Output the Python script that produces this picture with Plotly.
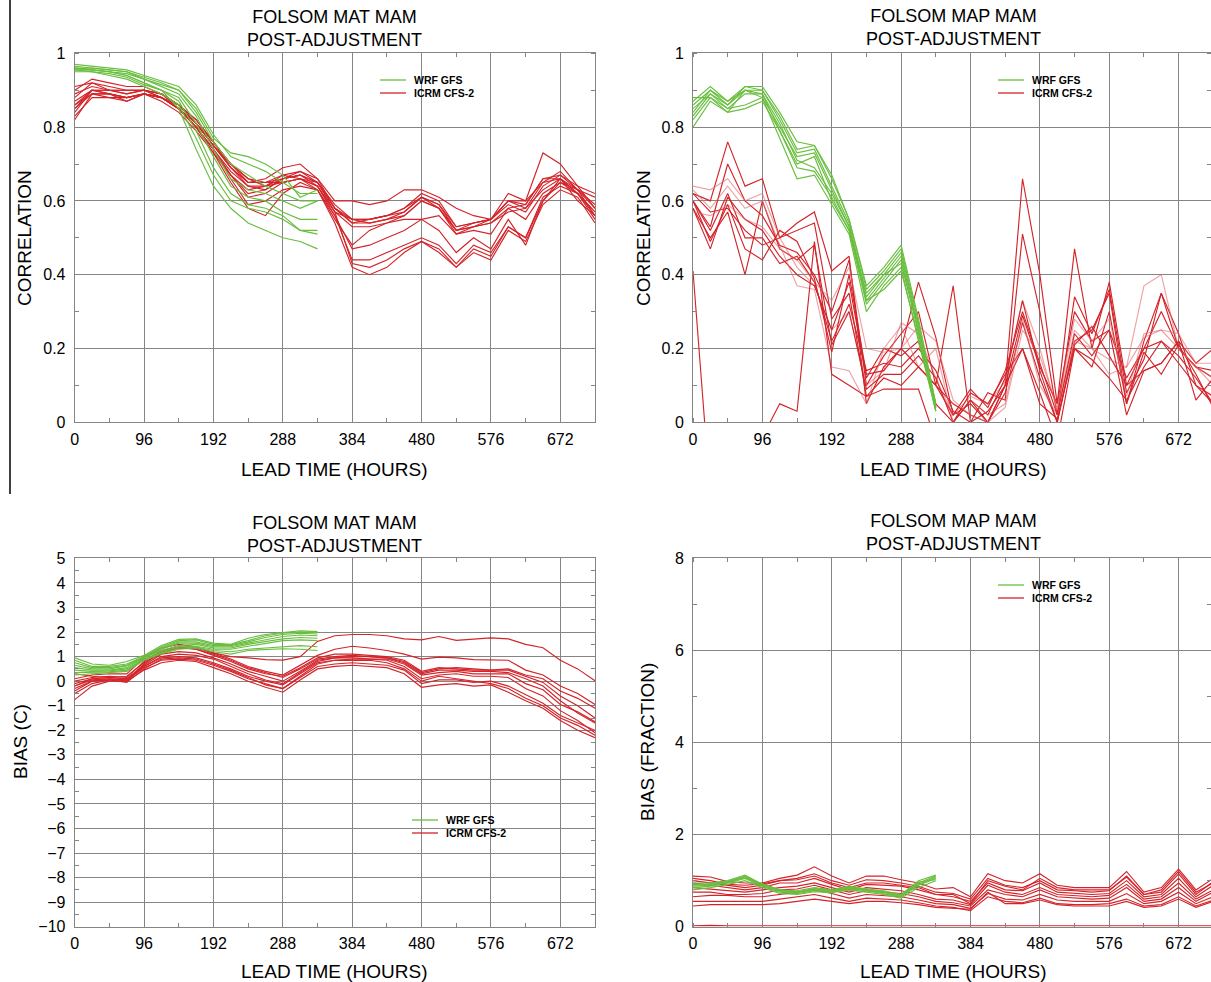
import plotly.graph_objects as go

# ---------------- DATA ----------------
LEAD_HOURS = [0, 24, 48, 72, 96, 120, 144, 168, 192, 216, 240, 264, 288, 312, 336,
              360, 384, 408, 432, 456, 480, 504, 528, 552, 576, 600, 624, 648, 672, 696, 720]
WRF_HOURS = LEAD_HOURS[:15]
X_TICKS = [0, 96, 192, 288, 384, 480, 576, 672]

# Panel 1: MAT correlation
mat_corr_wrf = [
    [0.97, 0.965, 0.96, 0.955, 0.94, 0.925, 0.91, 0.86, 0.78, 0.72, 0.70, 0.68, 0.65, 0.62, 0.62],
    [0.96, 0.96, 0.955, 0.95, 0.935, 0.92, 0.90, 0.85, 0.77, 0.73, 0.72, 0.70, 0.67, 0.61, 0.63],
    [0.955, 0.955, 0.95, 0.945, 0.93, 0.915, 0.90, 0.84, 0.76, 0.70, 0.67, 0.64, 0.62, 0.60, 0.60],
    [0.965, 0.96, 0.955, 0.95, 0.93, 0.91, 0.89, 0.83, 0.74, 0.66, 0.63, 0.62, 0.60, 0.58, 0.60],
    [0.96, 0.955, 0.95, 0.94, 0.92, 0.90, 0.88, 0.81, 0.72, 0.64, 0.61, 0.60, 0.57, 0.55, 0.55],
    [0.955, 0.95, 0.945, 0.935, 0.915, 0.90, 0.87, 0.79, 0.69, 0.62, 0.59, 0.58, 0.56, 0.52, 0.52],
    [0.95, 0.95, 0.94, 0.93, 0.91, 0.89, 0.86, 0.77, 0.67, 0.60, 0.58, 0.57, 0.55, 0.52, 0.51],
    [0.96, 0.955, 0.95, 0.94, 0.92, 0.90, 0.85, 0.74, 0.64, 0.58, 0.54, 0.52, 0.50, 0.49, 0.47],
]
mat_corr_icrm = [
    [0.85, 0.90, 0.90, 0.89, 0.90, 0.89, 0.86, 0.82, 0.76, 0.70, 0.65, 0.65, 0.66, 0.67, 0.65, 0.59, 0.55, 0.54, 0.55, 0.57, 0.61, 0.59, 0.52, 0.53, 0.55, 0.60, 0.58, 0.65, 0.66, 0.62, 0.57],
    [0.88, 0.92, 0.91, 0.90, 0.90, 0.89, 0.86, 0.81, 0.75, 0.69, 0.65, 0.66, 0.69, 0.70, 0.66, 0.58, 0.54, 0.55, 0.56, 0.58, 0.62, 0.60, 0.53, 0.54, 0.55, 0.59, 0.57, 0.64, 0.67, 0.64, 0.58],
    [0.90, 0.93, 0.92, 0.91, 0.91, 0.89, 0.85, 0.80, 0.74, 0.68, 0.64, 0.63, 0.66, 0.68, 0.66, 0.60, 0.60, 0.59, 0.60, 0.63, 0.63, 0.61, 0.58, 0.56, 0.55, 0.60, 0.60, 0.65, 0.68, 0.63, 0.61],
    [0.82, 0.89, 0.89, 0.88, 0.89, 0.88, 0.85, 0.81, 0.75, 0.70, 0.66, 0.65, 0.67, 0.66, 0.64, 0.57, 0.55, 0.55, 0.56, 0.57, 0.61, 0.58, 0.51, 0.53, 0.54, 0.58, 0.59, 0.66, 0.67, 0.63, 0.56],
    [0.84, 0.90, 0.90, 0.89, 0.90, 0.88, 0.86, 0.82, 0.76, 0.69, 0.65, 0.65, 0.65, 0.66, 0.64, 0.57, 0.53, 0.53, 0.54, 0.56, 0.60, 0.58, 0.52, 0.53, 0.54, 0.57, 0.58, 0.63, 0.66, 0.62, 0.55],
    [0.86, 0.90, 0.89, 0.88, 0.89, 0.88, 0.85, 0.80, 0.74, 0.66, 0.59, 0.60, 0.63, 0.64, 0.63, 0.55, 0.48, 0.52, 0.54, 0.55, 0.55, 0.56, 0.51, 0.52, 0.51, 0.58, 0.55, 0.62, 0.65, 0.63, 0.58],
    [0.91, 0.92, 0.90, 0.90, 0.90, 0.89, 0.86, 0.81, 0.75, 0.69, 0.64, 0.64, 0.66, 0.67, 0.65, 0.57, 0.43, 0.42, 0.44, 0.47, 0.49, 0.46, 0.42, 0.47, 0.45, 0.53, 0.50, 0.60, 0.66, 0.60, 0.56],
    [0.87, 0.90, 0.89, 0.87, 0.89, 0.88, 0.85, 0.80, 0.73, 0.65, 0.58, 0.56, 0.62, 0.65, 0.63, 0.54, 0.42, 0.40, 0.42, 0.46, 0.49, 0.47, 0.42, 0.46, 0.44, 0.52, 0.49, 0.59, 0.63, 0.61, 0.54],
    [0.85, 0.89, 0.89, 0.88, 0.89, 0.87, 0.84, 0.79, 0.73, 0.67, 0.61, 0.62, 0.65, 0.66, 0.63, 0.56, 0.44, 0.44, 0.46, 0.48, 0.50, 0.48, 0.43, 0.48, 0.46, 0.53, 0.50, 0.61, 0.64, 0.62, 0.56],
    [0.89, 0.91, 0.90, 0.90, 0.90, 0.88, 0.85, 0.81, 0.76, 0.70, 0.66, 0.64, 0.65, 0.66, 0.65, 0.58, 0.54, 0.54, 0.55, 0.56, 0.60, 0.58, 0.52, 0.54, 0.55, 0.62, 0.60, 0.73, 0.70, 0.64, 0.62],
    [0.83, 0.88, 0.88, 0.87, 0.89, 0.88, 0.85, 0.80, 0.74, 0.67, 0.63, 0.64, 0.67, 0.68, 0.65, 0.58, 0.55, 0.55, 0.56, 0.58, 0.61, 0.59, 0.53, 0.54, 0.55, 0.60, 0.59, 0.66, 0.66, 0.63, 0.59],
    [0.86, 0.89, 0.88, 0.88, 0.89, 0.88, 0.85, 0.80, 0.74, 0.67, 0.62, 0.63, 0.66, 0.67, 0.64, 0.56, 0.47, 0.48, 0.50, 0.52, 0.55, 0.52, 0.46, 0.50, 0.47, 0.55, 0.48, 0.60, 0.65, 0.62, 0.57],
]

# Panel 2: MAP correlation
map_corr_wrf = [
    [0.80, 0.87, 0.84, 0.90, 0.88, 0.77, 0.66, 0.67, 0.59, 0.51, 0.30, 0.37, 0.42, 0.22, 0.03],
    [0.82, 0.88, 0.85, 0.89, 0.89, 0.79, 0.69, 0.68, 0.61, 0.52, 0.32, 0.38, 0.44, 0.24, 0.03],
    [0.83, 0.89, 0.86, 0.90, 0.89, 0.81, 0.71, 0.69, 0.62, 0.53, 0.33, 0.39, 0.45, 0.25, 0.04],
    [0.84, 0.90, 0.86, 0.91, 0.90, 0.82, 0.73, 0.74, 0.64, 0.54, 0.34, 0.40, 0.46, 0.26, 0.04],
    [0.86, 0.90, 0.87, 0.90, 0.90, 0.83, 0.74, 0.75, 0.66, 0.55, 0.36, 0.41, 0.47, 0.27, 0.05],
    [0.87, 0.91, 0.87, 0.91, 0.91, 0.84, 0.76, 0.75, 0.67, 0.55, 0.37, 0.42, 0.48, 0.28, 0.05],
    [0.85, 0.89, 0.85, 0.86, 0.88, 0.80, 0.72, 0.73, 0.63, 0.53, 0.35, 0.40, 0.43, 0.25, 0.04],
    [0.88, 0.88, 0.84, 0.85, 0.87, 0.79, 0.70, 0.72, 0.60, 0.52, 0.33, 0.36, 0.41, 0.23, 0.03],
]
map_corr_icrm = [
    [0.62, 0.60, 0.76, 0.64, 0.66, 0.50, 0.54, 0.57, 0.41, 0.45, 0.05, 0.15, 0.20, 0.38, 0.23, 0.02, 0.05, 0.00, 0.10, 0.66, 0.40, 0.05, 0.47, 0.20, 0.38, 0.10, 0.20, 0.30, 0.20, 0.15, 0.14],
    [0.60, 0.53, 0.70, 0.60, 0.56, 0.48, 0.46, 0.40, 0.30, 0.44, 0.10, 0.18, 0.24, 0.30, 0.10, 0.37, 0.00, 0.08, 0.06, 0.51, 0.30, 0.02, 0.34, 0.24, 0.36, 0.08, 0.17, 0.35, 0.24, 0.10, 0.07],
    [0.64, 0.63, 0.66, 0.60, 0.62, 0.50, 0.42, 0.37, 0.25, 0.30, 0.10, 0.14, 0.27, 0.24, 0.12, 0.02, 0.07, 0.05, 0.11, 0.33, 0.20, 0.03, 0.25, 0.20, 0.13, 0.15, 0.37, 0.40, 0.20, 0.15, 0.10],
    [0.58, 0.47, 0.61, 0.55, 0.52, 0.45, 0.40, 0.37, 0.25, 0.38, 0.12, 0.20, 0.18, 0.22, 0.05, 0.00, 0.06, 0.02, 0.12, 0.33, 0.14, 0.00, 0.22, 0.25, 0.35, 0.05, 0.22, 0.35, 0.20, 0.15, 0.12],
    [0.60, 0.52, 0.62, 0.50, 0.50, 0.43, 0.45, 0.38, 0.22, 0.32, 0.14, 0.16, 0.15, 0.20, 0.14, 0.03, 0.00, 0.03, 0.10, 0.29, 0.15, 0.05, 0.30, 0.22, 0.25, 0.12, 0.20, 0.22, 0.18, 0.12, 0.05],
    [0.62, 0.57, 0.58, 0.52, 0.48, 0.50, 0.52, 0.54, 0.28, 0.35, 0.07, 0.12, 0.10, 0.15, 0.10, 0.05, 0.02, 0.00, 0.08, 0.27, 0.12, 0.00, 0.21, 0.26, 0.18, 0.10, 0.14, 0.16, 0.22, 0.16, 0.20],
    [0.58, 0.50, 0.57, 0.40, 0.60, 0.47, 0.44, 0.48, 0.21, 0.30, 0.09, 0.13, 0.13, 0.18, 0.12, 0.00, 0.08, 0.05, 0.13, 0.20, 0.05, 0.01, 0.20, 0.15, 0.30, 0.05, 0.19, 0.13, 0.21, 0.13, 0.04],
    [0.63, 0.58, 0.64, 0.58, 0.60, 0.48, 0.37, 0.36, 0.15, 0.14, 0.05, 0.20, 0.26, 0.15, 0.20, 0.00, 0.06, 0.02, 0.05, 0.28, 0.10, 0.02, 0.22, 0.20, 0.17, 0.15, 0.23, 0.25, 0.20, 0.15, 0.12],
    [0.41, -0.20, -0.25, -0.20, -0.04, 0.05, 0.03, 0.49, 0.13, 0.10, 0.07, 0.09, 0.09, 0.09, -0.05, 0.00, 0.06, 0.00, 0.10, 0.20, 0.08, -0.05, 0.20, 0.17, 0.12, 0.06, 0.15, 0.22, 0.16, 0.10, 0.05],
    [0.57, 0.56, 0.59, 0.55, 0.53, 0.47, 0.44, 0.38, 0.33, 0.42, 0.20, 0.19, 0.20, 0.26, 0.22, 0.06, 0.02, 0.00, 0.04, 0.25, 0.18, 0.04, 0.28, 0.22, 0.28, 0.07, 0.24, 0.25, 0.24, 0.16, 0.16],
    [0.60, 0.49, 0.59, 0.47, 0.44, 0.52, 0.49, 0.39, 0.19, 0.40, 0.13, 0.14, 0.20, 0.15, 0.10, 0.02, 0.09, 0.04, 0.14, 0.30, 0.16, 0.02, 0.24, 0.18, 0.25, 0.02, 0.14, 0.16, 0.22, 0.06, 0.12],
]
map_corr_icrm_light = [False, False, True, False, False, False, False, True, False, True, False]

# Panel 3: MAT bias (C)
mat_bias_wrf = [
    [0.95, 0.70, 0.65, 0.80, 1.05, 1.45, 1.70, 1.72, 1.55, 1.50, 1.75, 1.90, 1.98, 2.05, 2.02],
    [0.85, 0.60, 0.60, 0.70, 1.00, 1.40, 1.65, 1.68, 1.50, 1.48, 1.65, 1.85, 1.95, 2.00, 1.98],
    [0.75, 0.55, 0.55, 0.65, 1.00, 1.35, 1.60, 1.60, 1.45, 1.45, 1.60, 1.78, 1.90, 1.95, 1.92],
    [0.65, 0.50, 0.50, 0.62, 0.95, 1.30, 1.55, 1.55, 1.40, 1.40, 1.55, 1.70, 1.82, 1.88, 1.85],
    [0.55, 0.45, 0.45, 0.55, 0.95, 1.25, 1.45, 1.50, 1.35, 1.35, 1.50, 1.62, 1.72, 1.78, 1.75],
    [0.45, 0.40, 0.42, 0.50, 0.90, 1.20, 1.40, 1.42, 1.30, 1.30, 1.42, 1.55, 1.65, 1.68, 1.65],
    [0.35, 0.35, 0.38, 0.45, 0.88, 1.15, 1.35, 1.38, 1.25, 1.20, 1.30, 1.35, 1.40, 1.45, 1.40],
    [0.25, 0.30, 0.35, 0.40, 0.85, 1.12, 1.30, 1.35, 1.20, 1.10, 1.25, 1.30, 1.32, 1.30, 1.25],
]
mat_bias_icrm = [
    [-0.2, 0.1, 0.15, 0.2, 0.75, 1.15, 1.35, 1.35, 1.15, 1.0, 0.95, 0.88, 0.86, 1.0, 1.62, 1.85, 1.9, 1.9, 1.85, 1.72, 1.68, 1.82, 1.66, 1.7, 1.76, 1.72, 1.5, 1.36, 0.85, 0.5, 0.02],
    [0.1, 0.25, 0.3, 0.3, 0.95, 1.35, 1.5, 1.4, 1.15, 0.9, 0.6, 0.4, 0.25, 0.65, 1.05, 1.3, 1.42, 1.35, 1.25, 1.1, 0.9, 0.98, 0.95, 0.88, 0.85, 0.85, 0.45, 0.25, -0.2, -0.5, -0.95],
    [-0.4, 0.0, 0.1, 0.05, 0.7, 1.2, 1.35, 1.3, 1.05, 0.8, 0.5, 0.3, 0.2, 0.55, 0.95, 1.1, 1.1, 1.05, 1.0, 0.85, 0.4, 0.55, 0.5, 0.45, 0.45, 0.5, 0.25, 0.1, -0.4, -0.7, -1.1],
    [-0.2, 0.05, 0.1, 0.0, 0.6, 1.0, 1.1, 1.05, 0.9, 0.6, 0.3, 0.05, -0.1, 0.35, 0.8, 0.95, 1.0, 1.0, 0.95, 0.75, 0.3, 0.45, 0.45, 0.4, 0.4, 0.35, 0.1, -0.2, -0.8, -1.3, -1.7],
    [-0.5, -0.1, 0.05, -0.05, 0.5, 0.9, 0.95, 0.9, 0.7, 0.45, 0.15, -0.15, -0.3, 0.2, 0.7, 0.85, 0.9, 0.9, 0.85, 0.6, 0.1, 0.25, 0.3, 0.2, 0.2, 0.15, -0.3, -0.6, -1.2, -1.6, -2.1],
    [-0.75, -0.2, 0.0, 0.0, 0.45, 0.75, 0.85, 0.8, 0.55, 0.3, 0.0, -0.25, -0.45, 0.05, 0.5, 0.6, 0.65, 0.6, 0.55, 0.3, -0.25, -0.15, -0.1, -0.2, -0.15, -0.45, -0.8, -1.1, -1.6, -2.0, -2.3],
    [0.3, 0.2, 0.15, 0.1, 0.6, 0.95, 1.0, 0.95, 0.75, 0.5, 0.2, 0.0, -0.15, 0.3, 0.75, 0.85, 0.85, 0.85, 0.75, 0.5, 0.0, 0.2, 0.1, 0.0, -0.1, -0.3, -0.7, -1.0, -1.5, -1.8, -2.2],
    [-0.3, 0.0, 0.05, 0.05, 0.55, 0.85, 0.9, 0.85, 0.65, 0.4, 0.1, -0.1, -0.3, 0.15, 0.6, 0.7, 0.75, 0.7, 0.65, 0.45, -0.1, 0.05, 0.05, -0.05, 0.0, -0.2, -0.55, -0.9, -1.4, -1.7, -2.0],
    [0.0, 0.15, 0.2, 0.15, 0.8, 1.25, 1.4, 1.3, 1.1, 0.85, 0.55, 0.35, 0.15, 0.5, 0.9, 1.0, 1.05, 1.0, 0.95, 0.8, 0.35, 0.5, 0.55, 0.5, 0.45, 0.45, 0.2, -0.05, -0.6, -1.0, -1.5],
    [-0.1, 0.1, 0.15, 0.1, 0.65, 1.1, 1.2, 1.15, 0.95, 0.7, 0.4, 0.2, 0.0, 0.4, 0.85, 0.95, 0.95, 0.9, 0.9, 0.7, 0.25, 0.35, 0.4, 0.3, 0.3, 0.3, -0.1, -0.35, -0.95, -1.25, -1.65],
]

# Panel 4: MAP bias (fraction)
map_bias_wrf = [
    [0.90, 0.92, 0.98, 1.10, 0.90, 0.78, 0.75, 0.80, 0.78, 0.85, 0.80, 0.75, 0.68, 0.95, 1.10],
    [0.85, 0.88, 0.95, 1.05, 0.88, 0.75, 0.72, 0.78, 0.76, 0.82, 0.78, 0.72, 0.65, 0.90, 1.05],
    [0.95, 0.95, 1.00, 1.12, 0.92, 0.80, 0.78, 0.85, 0.80, 0.88, 0.82, 0.78, 0.70, 1.00, 1.12],
    [0.80, 0.85, 0.92, 1.00, 0.85, 0.72, 0.70, 0.76, 0.74, 0.80, 0.75, 0.70, 0.62, 0.85, 1.00],
    [0.88, 0.90, 0.96, 1.08, 0.90, 0.77, 0.74, 0.82, 0.77, 0.84, 0.79, 0.74, 0.66, 0.92, 1.08],
    [0.92, 0.93, 0.98, 1.06, 0.93, 0.80, 0.76, 0.83, 0.79, 0.86, 0.81, 0.76, 0.68, 0.97, 1.02],
]
map_bias_icrm = [
    [1.10, 1.08, 0.98, 0.95, 0.95, 1.05, 1.12, 1.30, 1.10, 0.95, 1.10, 1.10, 1.02, 0.95, 0.82, 0.85, 0.65, 1.15, 1.00, 0.95, 1.15, 0.90, 0.85, 0.85, 0.85, 1.20, 0.75, 0.85, 1.25, 0.80, 1.05],
    [1.05, 1.00, 0.92, 0.90, 0.93, 1.00, 1.05, 1.15, 1.00, 0.90, 1.02, 1.00, 0.95, 0.88, 0.75, 0.72, 0.60, 1.05, 0.90, 0.85, 1.00, 0.80, 0.78, 0.75, 0.78, 1.10, 0.70, 0.75, 1.15, 0.70, 0.98],
    [0.95, 0.90, 0.85, 0.80, 0.85, 0.95, 0.95, 1.05, 0.92, 0.80, 0.92, 0.90, 0.88, 0.80, 0.70, 0.65, 0.55, 0.95, 0.80, 0.78, 0.95, 0.75, 0.72, 0.70, 0.72, 1.00, 0.65, 0.70, 1.05, 0.65, 0.90],
    [0.85, 0.82, 0.78, 0.75, 0.80, 0.85, 0.88, 0.95, 0.85, 0.75, 0.85, 0.82, 0.78, 0.70, 0.60, 0.58, 0.48, 0.90, 0.75, 0.70, 0.85, 0.70, 0.68, 0.65, 0.68, 0.92, 0.60, 0.65, 0.95, 0.60, 0.80],
    [0.75, 0.75, 0.70, 0.70, 0.72, 0.80, 0.82, 0.90, 0.80, 0.70, 0.78, 0.75, 0.72, 0.65, 0.55, 0.52, 0.45, 0.80, 0.70, 0.65, 0.80, 0.65, 0.62, 0.60, 0.62, 0.85, 0.55, 0.60, 0.85, 0.55, 0.75],
    [0.65, 0.68, 0.68, 0.65, 0.65, 0.70, 0.75, 0.80, 0.72, 0.62, 0.70, 0.68, 0.65, 0.58, 0.50, 0.48, 0.40, 0.72, 0.60, 0.58, 0.70, 0.58, 0.55, 0.55, 0.55, 0.72, 0.50, 0.55, 0.75, 0.50, 0.65],
    [0.55, 0.55, 0.55, 0.55, 0.55, 0.60, 0.65, 0.70, 0.62, 0.55, 0.62, 0.60, 0.58, 0.52, 0.45, 0.42, 0.35, 0.65, 0.55, 0.52, 0.62, 0.50, 0.48, 0.48, 0.50, 0.60, 0.45, 0.48, 0.65, 0.45, 0.58],
    [0.45, 0.48, 0.48, 0.48, 0.48, 0.50, 0.55, 0.60, 0.55, 0.50, 0.55, 0.55, 0.52, 0.48, 0.42, 0.40, 0.38, 0.75, 0.50, 0.50, 0.58, 0.48, 0.45, 0.45, 0.45, 0.55, 0.42, 0.45, 0.60, 0.42, 0.55],
    [0.02, 0.03, 0.02, 0.02, 0.02, 0.02, 0.02, 0.02, 0.02, 0.02, 0.02, 0.02, 0.02, 0.02, 0.02, 0.02, 0.02, 0.02, 0.02, 0.02, 0.02, 0.02, 0.02, 0.02, 0.02, 0.02, 0.02, 0.02, 0.03, 0.02, 0.02],
    [1.00, 0.95, 0.90, 0.85, 0.90, 1.00, 1.02, 1.10, 0.95, 0.85, 0.95, 0.95, 0.90, 0.85, 0.70, 0.70, 0.50, 1.00, 0.88, 0.80, 1.05, 0.85, 0.80, 0.80, 0.80, 1.08, 0.70, 0.80, 1.20, 0.75, 0.95],
]

TITLE_MAT = "FOLSOM MAT MAM<br>POST-ADJUSTMENT"
TITLE_MAP = "FOLSOM MAP MAM<br>POST-ADJUSTMENT"
LEGEND_NAMES = ["WRF GFS", "ICRM CFS-2"]

# ---------------- STYLE / LAYOUT ----------------
W, H = 1211, 982
GREEN = "#69be3f"
RED = "#d3242a"
RED_LIGHT = "rgba(228,100,105,0.6)"
GRID = "#858585"
FONT = "Liberation Sans, Arial, Helvetica, sans-serif"


def px(x):
    return x / W


def py(y):
    return 1 - y / H


LEFT_X0, PANEL_W = 74.7, 520.3
RIGHT_X0 = 693.0
TOP_Y0, TOP_Y1 = 53.3, 422.3
BOT_Y0, BOT_Y1 = 558.4, 926.7

fig = go.Figure()

panels = [
    ("x", "y", mat_corr_wrf, mat_corr_icrm, None),
    ("x2", "y2", map_corr_wrf, map_corr_icrm, map_corr_icrm_light),
    ("x3", "y3", mat_bias_wrf, mat_bias_icrm, None),
    ("x4", "y4", map_bias_wrf, map_bias_icrm, None),
]

for xa, ya, wrf, icrm, light in panels:
    for i, vals in enumerate(icrm):
        col = RED_LIGHT if (light and light[i]) else RED
        fig.add_trace(go.Scatter(x=LEAD_HOURS, y=vals, mode="lines", xaxis=xa, yaxis=ya,
                                 line=dict(color=col, width=1.15), showlegend=False,
                                 hoverinfo="skip"))
    for vals in wrf:
        fig.add_trace(go.Scatter(x=WRF_HOURS, y=vals, mode="lines", xaxis=xa, yaxis=ya,
                                 line=dict(color=GREEN, width=1.15), showlegend=False,
                                 hoverinfo="skip"))

right_range = 720 * (W - RIGHT_X0) / PANEL_W
tickfont = dict(family=FONT, size=16, color="black")

common_x = dict(tickvals=X_TICKS, showgrid=True, gridcolor=GRID, gridwidth=1,
                showline=True, linecolor=GRID, linewidth=1, mirror="ticks",
                ticks="", zeroline=False, ticklabelstandoff=2, automargin=False,
                minor=dict(ticks="inside", dtick=48, tick0=0, ticklen=4, tickcolor=GRID,
                           showgrid=False),
                tickfont=tickfont)
common_y = dict(showgrid=True, gridcolor=GRID, gridwidth=1, showline=True,
                linecolor=GRID, linewidth=1, mirror="ticks", ticks="", zeroline=False,
                ticklabelstandoff=5, automargin=False, tickfont=tickfont)
corr_ticks = dict(tickvals=[0, 0.2, 0.4, 0.6, 0.8, 1],
                  ticktext=["0", "0.2", "0.4", "0.6", "0.8", "1"],
                  minor=dict(ticks="inside", dtick=0.1, ticklen=4, tickcolor=GRID, showgrid=False))

fig.update_layout(
    template="none",
    width=W, height=H, margin=dict(l=0, r=0, t=0, b=0, pad=0, autoexpand=False),
    paper_bgcolor="white", plot_bgcolor="white", showlegend=False,
    xaxis=dict(common_x, domain=[px(LEFT_X0), px(LEFT_X0 + PANEL_W)], range=[0, 720], anchor="y"),
    yaxis=dict(common_y, **corr_ticks, domain=[py(TOP_Y1), py(TOP_Y0)], range=[0, 1], anchor="x"),
    xaxis2=dict(common_x, domain=[px(RIGHT_X0), 1.0], range=[0, right_range], anchor="y2"),
    yaxis2=dict(common_y, **corr_ticks, domain=[py(TOP_Y1), py(TOP_Y0)], range=[0, 1], anchor="x2"),
    xaxis3=dict(common_x, domain=[px(LEFT_X0), px(LEFT_X0 + PANEL_W)], range=[0, 720], anchor="y3"),
    yaxis3=dict(common_y, domain=[py(BOT_Y1), py(BOT_Y0)], range=[-10, 5], dtick=1, tick0=0,
                minor=dict(ticks="inside", dtick=0.5, ticklen=4, tickcolor=GRID, showgrid=False),
                anchor="x3"),
    xaxis4=dict(common_x, domain=[px(RIGHT_X0), 1.0], range=[0, right_range], anchor="y4"),
    yaxis4=dict(common_y, domain=[py(BOT_Y1), py(BOT_Y0)], range=[0, 8], dtick=2, tick0=0,
                minor=dict(ticks="inside", dtick=1, ticklen=4, tickcolor=GRID, showgrid=False),
                anchor="x4"),
)

ann = []
shapes = []
title_font = dict(family=FONT, size=18, color="black")
axis_font = dict(family=FONT, size=19, color="black")
leg_font = dict(family=FONT, size=10.5, color="black")

left_cx = LEFT_X0 + PANEL_W / 2
right_cx = RIGHT_X0 + PANEL_W / 2


def add_text(cx, cy, txt, font, angle=0, anchor="center"):
    ann.append(dict(x=px(cx), y=py(cy), xref="paper", yref="paper", text=txt, showarrow=False,
                    font=font, xanchor=anchor, yanchor="middle", textangle=angle))


# panel titles (two lines each)
for cx, cy, txt in [(left_cx, 28.5, TITLE_MAT), (right_cx, 27.5, TITLE_MAP),
                    (left_cx, 534.5, TITLE_MAT), (right_cx, 532.5, TITLE_MAP)]:
    add_text(cx, cy, txt, title_font)

# x axis titles
for cx, cy in [(left_cx, 469), (right_cx, 469), (left_cx, 971), (right_cx, 971)]:
    add_text(cx, cy, "LEAD TIME (HOURS)", axis_font)

# y axis titles
for cx, cy, txt in [(25, 238, "CORRELATION"), (644, 238, "CORRELATION"),
                    (20, 742, "BIAS (C)"), (647, 742, "BIAS (FRACTION)")]:
    add_text(cx, cy, txt, axis_font, angle=-90)

# legends (line sample + label)
for lx, ly in [(380, 80), (998, 80), (412, 820), (998, 585)]:
    for k, (name, col) in enumerate(zip(LEGEND_NAMES, [GREEN, RED])):
        yy = ly + k * 13
        shapes.append(dict(type="line", xref="paper", yref="paper",
                           x0=px(lx), x1=px(lx + 26), y0=py(yy), y1=py(yy),
                           line=dict(color=col, width=1.3)))
        add_text(lx + 32, yy, "<b>%s</b>" % name, leg_font, anchor="left")

# vertical rule at far left
shapes.append(dict(type="line", xref="paper", yref="paper", x0=px(10), x1=px(10),
                   y0=py(0), y1=py(494), line=dict(color="black", width=1.5)))

fig.update_layout(annotations=ann, shapes=shapes)
fig.write_html("out.html", config={"displayModeBar": False},
               post_script="document.body.style.margin='0';")
